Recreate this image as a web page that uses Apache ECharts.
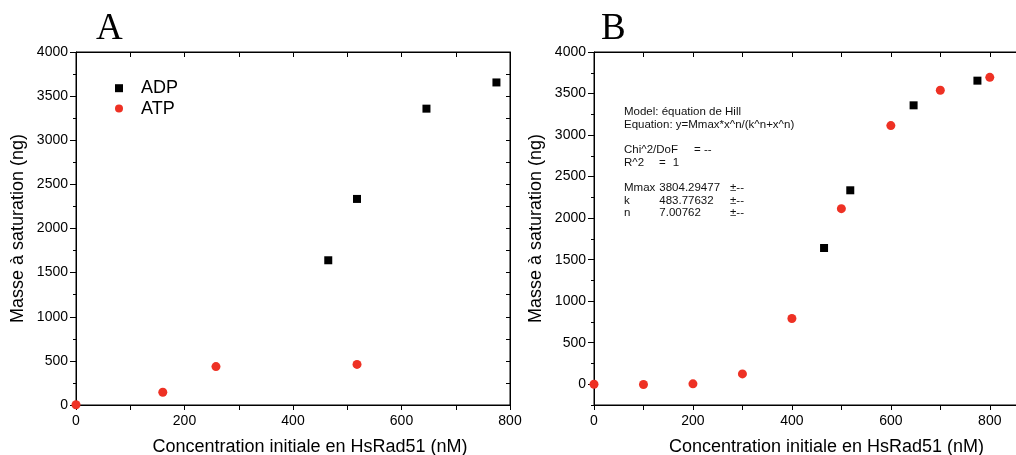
<!DOCTYPE html>
<html>
<head>
<meta charset="utf-8">
<script src="https://cdn.jsdelivr.net/npm/echarts@6/dist/echarts.min.js"></script>
<style>html,body{margin:0;padding:0;background:#fff;}#c{width:1016px;height:455px;}</style>
</head>
<body>
<div id="c"></div>
<script>
// ---- data ----
const adpX = [465, 518, 646, 775];
const adpY = [1640, 2335, 3358, 3655];
const atpAX = [0, 160, 258, 518];
const atpAY = [3, 145, 435, 460];
const atpBX = [0, 100, 200, 300, 400, 500, 600, 700, 800];
const atpBY = [0, -3, 5, 124, 791, 2114, 3114, 3539, 3695];
// ---- tick labels ----
const xLabels = [0, 200, 400, 600, 800];
const xTicks = [0, 100, 200, 300, 400, 500, 600, 700, 800];
const yLabels = [0, 500, 1000, 1500, 2000, 2500, 3000, 3500, 4000];
const yMinorA = [250, 750, 1250, 1750, 2250, 2750, 3250, 3750];
const yMinorB = [-250, 250, 750, 1250, 1750, 2250, 2750, 3250, 3750];
const yAllA = [0, 250, 500, 750, 1000, 1250, 1500, 1750, 2000, 2250, 2500, 2750, 3000, 3250, 3500, 3750, 4000];
const fitText = [
  ['Model: équation de Hill'],
  ['Equation: y=Mmax*x^n/(k^n+x^n)'],
  null,
  ['Chi^2/DoF', '= --'],
  ['R^2', '=', '1'],
  null,
  ['Mmax', '3804.29477', '±--'],
  ['k', '483.77632', '±--'],
  ['n', '7.00762', '±--']
];

const FONT = 'Liberation Sans, Arial, sans-serif';
const zip = (xs, ys) => xs.map((x, i) => [x, ys[i]]);
const RED = '#ee3124';
const plain = v => String(v);

function bottomAxis(grid, max, name, pad) {
  return {
    type: 'value', gridIndex: grid, position: 'bottom', min: 0, max: max,
    axisLine: { show: true, onZero: false, lineStyle: { color: '#000', width: 1 } },
    axisTick: { show: true, inside: false, length: 5, customValues: xTicks, lineStyle: { color: '#000' } },
    axisLabel: { customValues: xLabels, formatter: plain, margin: 9, fontSize: 14, fontFamily: FONT, color: '#000' },
    splitLine: { show: false },
    name: name, nameLocation: 'middle', nameGap: 33,
    nameTextStyle: { fontSize: 18, fontFamily: FONT, color: '#000', padding: [0, 0, 0, pad] }
  };
}
function topAxis(grid, max) {
  return {
    show: true, z: 5,
    type: 'value', gridIndex: grid, position: 'top', min: 0, max: max,
    axisLine: { show: true, onZero: false, lineStyle: { color: '#000', width: 1 } },
    axisTick: { show: true, inside: true, length: 5, customValues: xTicks.slice(), lineStyle: { color: '#000' } },
    axisLabel: { show: false }, splitLine: { show: false }
  };
}
function leftAxis(grid, min) {
  return {
    type: 'value', gridIndex: grid, position: 'left', min: min, max: 4000,
    axisLine: { show: true, onZero: false, lineStyle: { color: '#000', width: 1 } },
    axisTick: { show: true, inside: false, length: 6, customValues: yLabels, lineStyle: { color: '#000' } },
    axisLabel: { customValues: yLabels, formatter: plain, margin: 8, fontSize: 14, fontFamily: FONT, color: '#000' },
    splitLine: { show: false },
    name: 'Masse à saturation (ng)', nameLocation: 'middle', nameGap: 49,
    nameTextStyle: { fontSize: 18, fontFamily: FONT, color: '#000' }
  };
}
function leftMinor(grid, min, vals) {
  return {
    type: 'value', gridIndex: grid, position: 'left', min: min, max: 4000,
    axisLine: { show: false, onZero: false },
    axisTick: { show: true, inside: false, length: 3, customValues: vals, lineStyle: { color: '#000' } },
    axisLabel: { show: false }, splitLine: { show: false }
  };
}
function rightAxis(grid, min) {
  return {
    type: 'value', gridIndex: grid, position: 'right', min: min, max: 4000,
    axisLine: { show: true, onZero: false, lineStyle: { color: '#000', width: 1 } },
    axisTick: { show: true, inside: true, length: 4, customValues: yAllA, lineStyle: { color: '#000' } },
    axisLabel: { show: false }, splitLine: { show: false }
  };
}

const graphics = [
  { type: 'text', left: 96, top: 11, style: { text: 'A', font: '37px "Liberation Serif", "Times New Roman", serif', fill: '#000' } },
  { type: 'text', left: 601, top: 11, style: { text: 'B', font: '37px "Liberation Serif", "Times New Roman", serif', fill: '#000' } }
];
const lineY = [111.7, 125, null, 150, 162.7, null, 188.3, 201, 213.3];
fitText.forEach((row, i) => {
  if (!row) return;
  let xs;
  if (row.length === 1) xs = [624];
  else if (row.length === 2) xs = [624, 694];
  else if (row[0] === 'R^2') xs = [624, 659, 672.7];
  else xs = [624, 659.3, 730];
  row.forEach((t, j) => {
    graphics.push({ type: 'text', x: xs[j], y: lineY[i],
      style: { text: t, font: '11.5px ' + FONT, fill: '#111', verticalAlign: 'middle', align: 'left' } });
  });
});

const option = {
  backgroundColor: '#fff',
  animation: false,
  grid: [
    { left: 76, top: 52, width: 434, height: 353, outerBoundsMode: 'none', show: true, borderColor: '#000', borderWidth: 1, backgroundColor: 'transparent' },
    { left: 594, top: 52, width: 423, height: 353, outerBoundsMode: 'none', show: true, borderColor: '#000', borderWidth: 1, backgroundColor: 'transparent' }
  ],
  xAxis: [
    bottomAxis(0, 800, 'Concentration initiale en HsRad51 (nM)', 34),
    topAxis(0, 800),
    bottomAxis(1, 855, 'Concentration initiale en HsRad51 (nM)', 42),
    topAxis(1, 855)
  ],
  yAxis: [
    leftAxis(0, 0),
    leftMinor(0, 0, yMinorA),
    rightAxis(0, 0),
    leftAxis(1, -250),
    leftMinor(1, -250, yMinorB)
  ],
  legend: {
    left: 115, top: 78, orient: 'vertical', padding: 0, itemGap: 0,
    itemWidth: 8, itemHeight: 8,
    data: [{ name: 'ADP', icon: 'rect' }, { name: 'ATP', icon: 'circle' }],
    textStyle: { fontSize: 18, fontFamily: FONT, color: '#000', lineHeight: 20.4, padding: [0, 0, 0, 13] }
  },
  graphic: graphics,
  series: [
    { name: 'ADP', type: 'scatter', xAxisIndex: 0, yAxisIndex: 0, symbol: 'rect', symbolSize: 8,
      itemStyle: { color: '#000', opacity: 1 }, data: zip(adpX, adpY) },
    { name: 'ATP', type: 'scatter', xAxisIndex: 0, yAxisIndex: 0, symbol: 'circle', symbolSize: 9,
      itemStyle: { color: RED, opacity: 1 }, data: zip(atpAX, atpAY) },
    { name: 'ATP', type: 'scatter', xAxisIndex: 2, yAxisIndex: 3, symbol: 'circle', symbolSize: 9,
      itemStyle: { color: RED, opacity: 1 }, data: zip(atpBX, atpBY) },
    { name: 'ADP', type: 'scatter', xAxisIndex: 2, yAxisIndex: 3, symbol: 'rect', symbolSize: 8,
      itemStyle: { color: '#000', opacity: 1 }, data: zip(adpX, adpY) }
  ]
};
const chart = echarts.init(document.getElementById('c'), null, { renderer: 'canvas' });
chart.setOption(option);
</script>
</body>
</html>
